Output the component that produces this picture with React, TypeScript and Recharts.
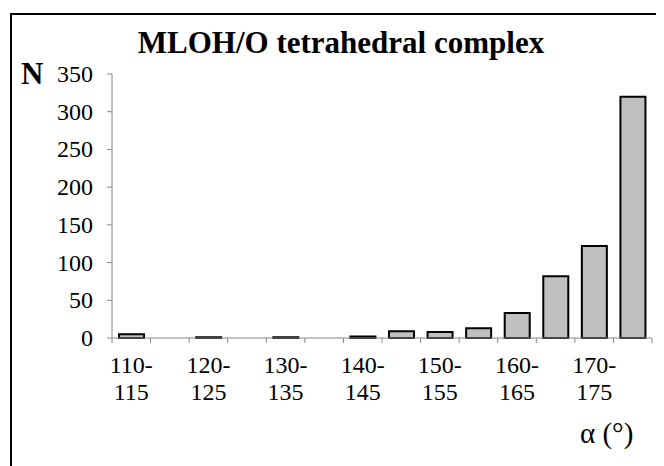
import React from "react";
import { BarChart, Bar, XAxis, YAxis } from "recharts";

const bins = [
  "110-115", "115-120", "120-125", "125-130", "130-135", "135-140", "140-145",
  "145-150", "150-155", "155-160", "160-165", "165-170", "170-175", "175-180",
];
const counts = [5, 0, 1, 0, 1, 0, 2, 9, 8, 13, 33, 82, 122, 320];
const yTicks = [0, 50, 100, 150, 200, 250, 300, 350];

const data = bins.map((bin, i) => ({ bin, n: counts[i] }));

const W = 656;
const H = 458;
const font = "Liberation Serif, Times New Roman, Times, serif";
const BAND = 540 / bins.length;

// ticks sit on the bin edges, labels only on every other bin
const BinTick = (props: any) => {
  const { x, y, index } = props;
  const [from, to] = String(props.payload.value).split("-");
  const last = index === bins.length - 1;
  return (
    <g>
      <line x1={x - BAND / 2} x2={x - BAND / 2} y1={y} y2={y + 5} stroke="#888" />
      {last && <line x1={x + BAND / 2} x2={x + BAND / 2} y1={y} y2={y + 5} stroke="#888" />}
      {index % 2 === 0 && (
        <text textAnchor="middle" style={{ fontFamily: font, fontSize: 24 }} fill="#000">
          <tspan x={x} y={y + 35}>{from}-</tspan>
          <tspan x={x} y={y + 62}>{to}</tspan>
        </text>
      )}
    </g>
  );
};

const CountTick = (props: any) => {
  const { x, y, payload } = props;
  return (
    <text x={x} y={y} dy={8} textAnchor="end" fill="#000" style={{ fontFamily: font, fontSize: 24 }}>
      {payload.value}
    </text>
  );
};

export default function App() {
  return (
    <div style={{ position: "relative", width: W, height: H, overflow: "hidden", fontFamily: font }}>
      <div
        style={{
          position: "absolute",
          left: 2,
          top: 5,
          width: W + 40,
          height: H + 40,
          border: "2px solid #000",
        }}
      />
      <BarChart
        width={W}
        height={H}
        data={data}
        margin={{ top: 66, right: 12, bottom: 68, left: 44 }}
        barCategoryGap={0}
      >
        <XAxis
          dataKey="bin"
          height={60}
          interval={0}
          tickSize={0}
          tickMargin={0}
          tickLine={false}
          axisLine={{ stroke: "#888" }}
          tick={<BinTick />}
        />
        <YAxis
          width={60}
          domain={[0, 350]}
          ticks={yTicks}
          tickSize={5}
          tickMargin={14}
          axisLine={{ stroke: "#888" }}
          tickLine={{ stroke: "#888" }}
          tick={<CountTick />}
        />
        <Bar
          dataKey="n"
          fill="#c0c0c0"
          stroke="#000"
          strokeWidth={2}
          barSize={25}
          isAnimationActive={false}
        />
      </BarChart>
      <svg
        width={W}
        height={H}
        style={{ position: "absolute", left: 0, top: 0, pointerEvents: "none" }}
      >
        <text x={333} y={45} textAnchor="middle" style={{ fontFamily: font, fontSize: 31, fontWeight: "bold" }}>
          MLOH/O tetrahedral complex
        </text>
        <text x={13} y={76} style={{ fontFamily: font, fontSize: 31, fontWeight: "bold" }}>
          N
        </text>
        <text x={572} y={435} style={{ fontFamily: font, fontSize: 29 }}>
          α (°)
        </text>
      </svg>
    </div>
  );
}
